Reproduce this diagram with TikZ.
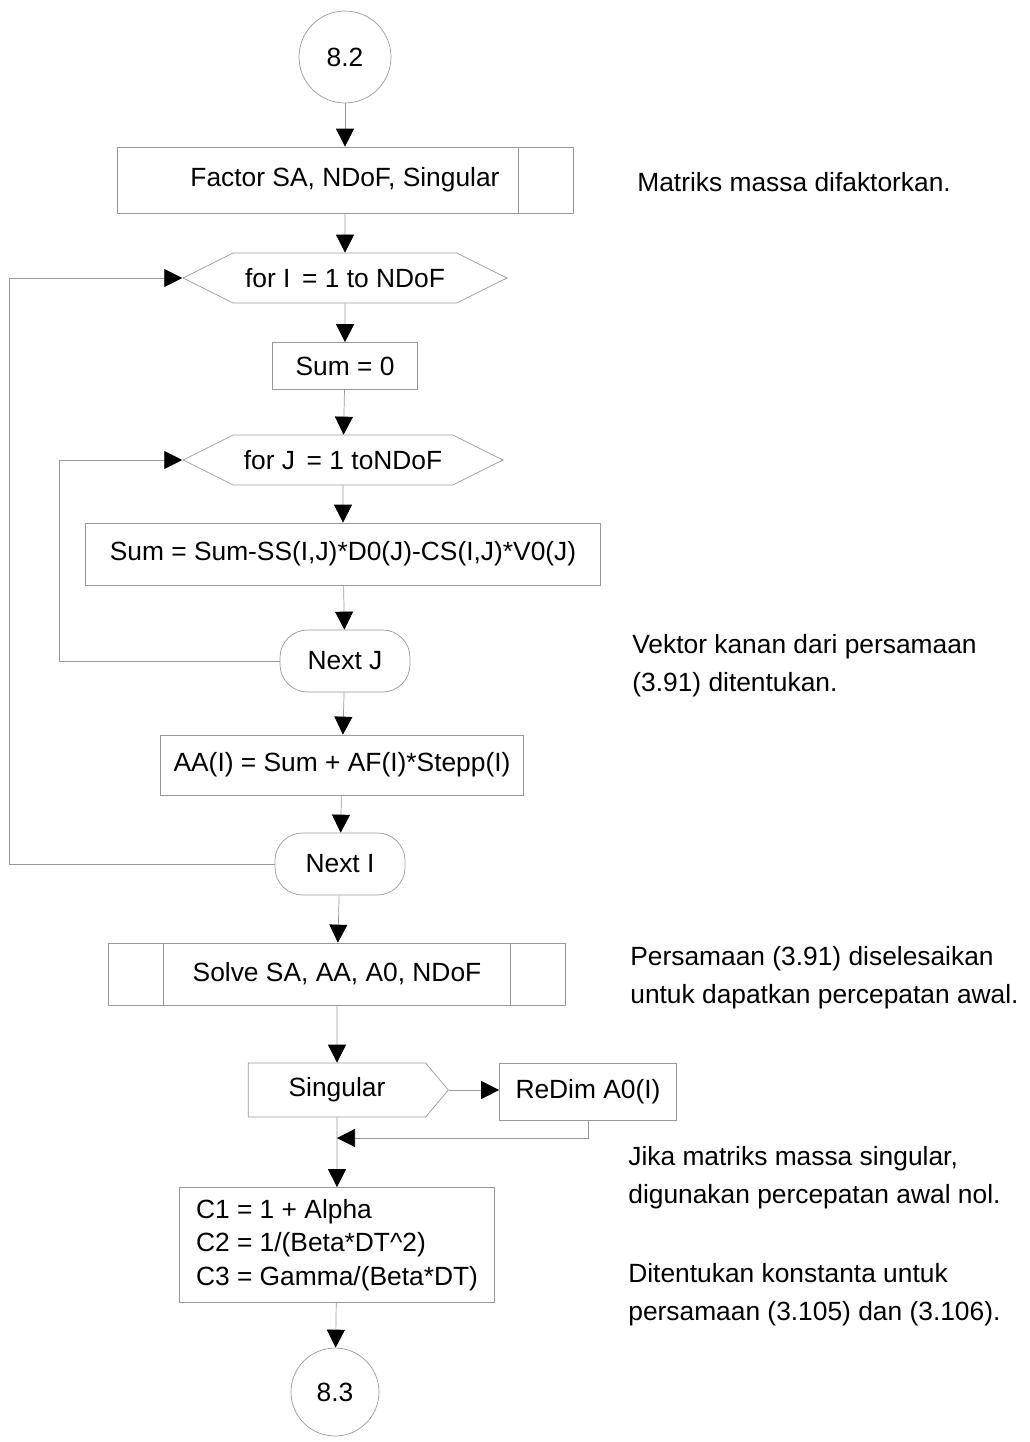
\documentclass[tikz,border=0pt]{standalone}
\usepackage{fontspec}
\setmainfont{Liberation Sans}
\usetikzlibrary{arrows.meta,positioning,shapes.symbols,calc}

\begin{document}
\begin{tikzpicture}[x=0.02cm,y=-0.02cm,
    every node/.style={font=\fontsize{15}{18}\selectfont},
    box/.style={draw=black!40,rectangle,inner sep=0pt},
    loopbox/.style={draw=black!40,signal,signal to=west and east,
      signal pointer angle=53,inner sep=0pt},
    term/.style={draw=black!40,rectangle,rounded corners=0.55cm,inner sep=0pt},
    conn/.style={draw=black!40,circle,inner sep=0pt},
    flow/.style={draw=black!40,-{Triangle[length=3.6mm,width=3.6mm,color=black]}},
    note/.style={anchor=west,align=left,inner sep=0pt,font=\fontsize{15}{21.5}\selectfont}]
  \useasboundingbox (0,0) rectangle (1030,1442);

  % main column
  \node[conn,minimum size=1.84cm] (c82) at (345,57) {8.2};
  \node[box,minimum width=9.12cm,minimum height=1.32cm] (factor) at (345,180) {Factor SA, NDoF, Singular};
  \node[loopbox,minimum width=6.48cm,minimum height=1cm] (forI) at (345,278) {for I\, = 1 to NDoF};
  \node[box,minimum width=2.9cm,minimum height=0.94cm] (sum0) at (345,366) {Sum = 0};
  \node[loopbox,minimum width=6.4cm,minimum height=1cm] (forJ) at (343,460) {for J\, = 1 toNDoF};
  \node[box,minimum width=10.3cm,minimum height=1.24cm] (sumJ) at (343,554) {Sum = Sum-SS(I,J)*D0(J)-CS(I,J)*V0(J)};
  \node[term,minimum width=2.6cm,minimum height=1.24cm] (nextJ) at (345,661) {Next J};
  \node[box,minimum width=7.26cm,minimum height=1.2cm] (aa) at (342,765) {AA(I) = Sum + AF(I)*Stepp(I)};
  \node[term,minimum width=2.6cm,minimum height=1.24cm] (nextI) at (340,864) {Next I};
  \node[box,minimum width=9.14cm,minimum height=1.24cm] (solve) at (337,974) {Solve SA, AA, A0, NDoF};
  \node[draw=black!40,signal,signal to=east,signal pointer angle=100,inner sep=0pt,
    minimum width=4cm,minimum height=1.08cm] (singular) at (337,1090) {Singular};
  \node[box,minimum width=3.54cm,minimum height=1.14cm] (redim) at (588,1092) {ReDim A0(I)};
  \node[box,minimum width=6.3cm,minimum height=2.3cm,align=left,
    font=\fontsize{15}{19}\selectfont] (cbox) at (337,1245)
    {C1 = 1 + Alpha\\C2 = 1/(Beta*DT\^{}2)\\C3 = Gamma/(Beta*DT)};
  \node[conn,minimum size=1.76cm] (c83) at (335,1392) {8.3};

  % double sides of the process boxes
  \draw[black!40] ([xshift=-1.1cm]factor.north east) -- ([xshift=-1.1cm]factor.south east);
  \draw[black!40] ([xshift=1.1cm]solve.north west) -- ([xshift=1.1cm]solve.south west);
  \draw[black!40] ([xshift=-1.1cm]solve.north east) -- ([xshift=-1.1cm]solve.south east);

  % flow lines
  \draw[flow] (c82) -- (factor);
  \draw[flow] (factor) -- (forI);
  \draw[flow] (forI) -- (sum0);
  \draw[flow] (sum0) -- (forJ);
  \draw[flow] (forJ) -- (sumJ);
  \draw[flow] (sumJ) -- (nextJ);
  \draw[flow] (nextJ.west) -- ++(-220,0) |- (forJ.west);
  \draw[flow] (nextJ) -- (aa);
  \draw[flow] (aa) -- (nextI);
  \draw[flow] (nextI.west) -- ++(-265,0) |- (forI.west);
  \draw[flow] (nextI) -- (solve);
  \draw[flow] (solve) -- (singular);
  \draw[flow] (singular) -- (cbox);
  \draw[flow] (singular.east) -- (singular.east -| redim.west);
  \coordinate (merge) at (337,1138);
  \draw[flow] (redim.south) |- (merge);
  \draw[flow] (cbox) -- (c83);

  % remarks
  \node[note] (n1) at (637,182) {Matriks massa difaktorkan.};
  \node[note] (n2) at (632,666) {Vektor kanan dari persamaan\\(3.91) ditentukan.};
  \node[note] (n3) at (630,978) {Persamaan (3.91) diselesaikan\\untuk dapatkan percepatan awal.};
  \node[note] (n4) at (628,1178) {Jika matriks massa singular,\\digunakan percepatan awal nol.};
  \node[note] (n5) at (628,1295) {Ditentukan konstanta untuk\\persamaan (3.105) dan (3.106).};
\end{tikzpicture}
\end{document}
